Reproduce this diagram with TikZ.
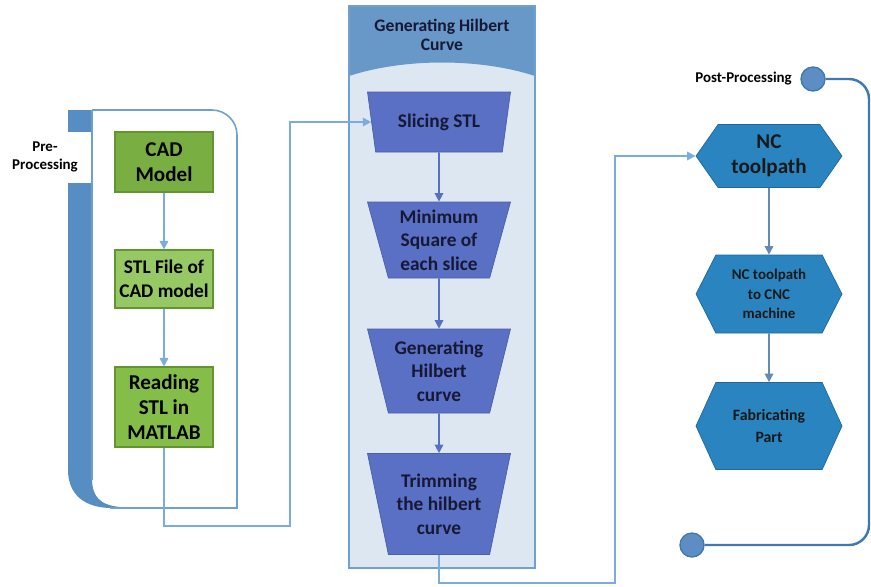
\documentclass[tikz,border=0pt]{standalone}
\usepackage{fontspec}
\setmainfont{Carlito}
\usetikzlibrary{shapes.geometric, shapes.symbols, arrows.meta}

\definecolor{linkblue}{RGB}{122,172,222}
\definecolor{paneline}{RGB}{112,160,206}
\definecolor{barblue}{RGB}{86,142,196}
\definecolor{greenfill}{RGB}{132,190,72}
\definecolor{greenline}{RGB}{98,148,48}
\definecolor{panelbody}{RGB}{221,231,241}
\definecolor{panelhead}{RGB}{104,152,200}
\definecolor{trapfill}{RGB}{90,112,196}
\definecolor{trapline}{RGB}{74,94,170}
\definecolor{trapink}{RGB}{22,24,52}
\definecolor{flowblue}{RGB}{88,112,196}
\definecolor{hexfill}{RGB}{42,132,192}
\definecolor{hexline}{RGB}{30,104,156}
\definecolor{postline}{RGB}{66,120,176}
\definecolor{dotfill}{RGB}{92,142,196}

\begin{document}
\begin{tikzpicture}[x=0.02cm, y=-0.02cm,
		link/.style={draw=linkblue, line width=0.9pt, -{Triangle[length=1.7mm, width=1.7mm]}},
		flow/.style={draw=flowblue, line width=0.9pt, -{Triangle[length=1.7mm, width=1.7mm]}},
		cadbox/.style={rectangle, draw=greenline, fill=greenfill, line width=0.6pt, inner sep=2pt,
			minimum width=1.96cm, align=center, font=\bfseries\fontsize{12}{14}\selectfont},
		slicebox/.style={trapezium, trapezium left angle=74, trapezium right angle=74,
			shape border rotate=180, trapezium stretches body, minimum width=2.86cm,
			fill=trapfill, draw=trapline, text=trapink, align=center,
			font=\bfseries\fontsize{11}{13.5}\selectfont},
		hexbox/.style={signal, signal to=west and east, fill=hexfill, draw=hexline,
			minimum width=2.92cm, align=center, text=black!90},
		dot/.style={circle, fill=dotfill, draw=postline, line width=0.8pt,
			minimum size=0.48cm, inner sep=0pt},
		caption/.style={font=\bfseries\fontsize{8.5}{10}\selectfont, align=center}]
		\useasboundingbox (0,0) rectangle (871,586);

		% pannello pre-processing
		\fill[barblue] (68,110) rectangle (92,132);
		\fill[barblue] (68,183) -- (92,183) -- (92,478) .. controls (92,497) and (100,505) .. (120,507)
			-- (120,508) -- (112,508) .. controls (84,508) and (68,494) .. (68,470) -- cycle;
		\draw[paneline, line width=0.9pt] (92,110) [rounded corners=0.5cm] -- (237,110)
			[sharp corners] -- (237,508) -- (110,508);
		\draw[paneline, line width=0.9pt] (92,110) -- (92,480);
		\node[caption] (pre) at (45,157) {Pre-\\Processing};

		\node[cadbox, minimum height=1.2cm, fill=greenfill!92!black] (cad) at (164,162) {CAD\\Model};
		\node[cadbox, minimum height=1.16cm, fill=greenfill!85!white,
			font=\bfseries\fontsize{11}{13.5}\selectfont] (stl) at (164,279) {STL File of\\CAD model};
		\node[cadbox, minimum height=1.6cm] (read) at (164,407) {Reading\\STL in\\MATLAB};

		\draw[link] (cad) -- (stl);
		\draw[link] (stl) -- (read);

		% pannello hilbert
		\fill[panelbody] (349,6) rectangle (535,568);
		\fill[panelhead] (349,6) -- (535,6) -- (535,76) .. controls (480,58) and (404,58) .. (349,76) -- cycle;
		\draw[paneline, line width=0.9pt] (349,6) rectangle (535,568);
		\node[caption, font=\bfseries\fontsize{10}{11}\selectfont, text=trapink] (hilbert) at (442,35)
			{Generating Hilbert\\Curve};

		\node[slicebox, minimum height=1.2cm] (slice) at (439,122) {Slicing STL};
		\node[slicebox, minimum height=1.52cm] (square) at (439,240) {Minimum\\Square of\\each slice};
		\node[slicebox, minimum height=1.68cm] (curve) at (439,371) {Generating\\Hilbert\\curve};
		\node[slicebox, minimum height=2.02cm] (trim) at (439,504) {Trimming\\the hilbert\\curve};

		\draw[flow] (slice) -- (square);
		\draw[flow] (square) -- (curve);
		\draw[flow] (curve) -- (trim);

		% pannello post-processing
		\node[caption, anchor=east] (post) at (798,79) {Post-Processing};
		\node[dot] (postin) at (813,79) {};
		\node[dot] (postout) at (692,545) {};
		\draw[postline, line width=1.4pt, rounded corners=0.4cm] (postin.east) -- (869,79) -- (869,545) -- (postout.east);

		\node[hexbox, minimum height=1.26cm, signal pointer angle=110,
			font=\bfseries\fontsize{12}{14}\selectfont] (nc) at (769,156) {NC\\toolpath};
		\node[hexbox, minimum height=1.56cm, signal pointer angle=126,
			font=\bfseries\fontsize{8.5}{11}\selectfont] (cnc) at (769,294) {NC toolpath\\to CNC\\machine};
		\node[hexbox, minimum height=1.74cm, signal pointer angle=131,
			font=\bfseries\fontsize{9}{12}\selectfont] (fab) at (769,426) {Fabricating\\Part};

		\draw[link, draw=linkblue!80!black] (nc) -- (cnc);
		\draw[link, draw=linkblue!80!black] (cnc) -- (fab);

		% collegamenti tra i pannelli
		\coordinate (bend1) at (290,526);
		\coordinate (bend2) at (615,583);
		\draw[link] (read.south) |- (bend1) |- (slice);
		\draw[link] (trim.south) |- (bend2) |- (nc);
	\end{tikzpicture}
\end{document}
